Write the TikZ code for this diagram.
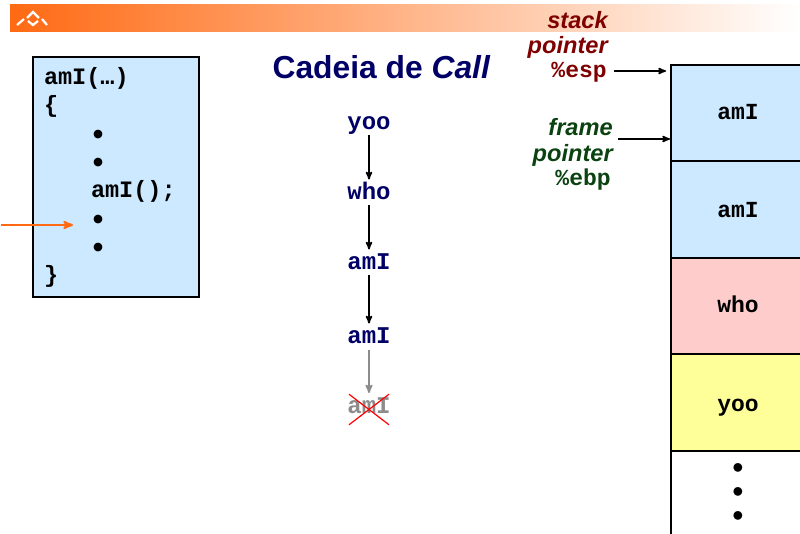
\documentclass[tikz,border=0pt]{standalone}
\usepackage{fontspec}
\setmainfont{Liberation Sans}
\setmonofont{Liberation Mono}
\usepackage{xcolor}
\usetikzlibrary{arrows,positioning,calc}

\definecolor{framblue}{HTML}{CCE9FF}
\definecolor{frampink}{HTML}{FFCCCC}
\definecolor{framyellow}{HTML}{FFFF99}
\definecolor{bannerorange}{HTML}{FF6A13}
\definecolor{bannermid}{HTML}{FFB6A0}
\definecolor{titlenavy}{HTML}{000066}
\definecolor{espred}{HTML}{7F0000}
\definecolor{ebpgreen}{HTML}{0A4210}

\newcommand{\codedot}{\hspace*{45pt}\raisebox{-4pt}{\fontsize{30}{28.3}\selectfont•}}

\tikzset{
	call/.style={font=\ttfamily\bfseries\fontsize{24}{24}\selectfont,text=titlenavy,inner sep=0pt,outer sep=0pt,minimum width=44pt,minimum height=26pt,text height=14pt,text depth=0pt},
	gone/.style={font=\ttfamily\bfseries\fontsize{24}{24}\selectfont,text=black!45,inner sep=0pt,outer sep=0pt,minimum width=40pt,minimum height=33pt,text height=11pt,text depth=4pt},
	framebox/.style={draw=black,line width=2.5pt,minimum width=134pt,font=\ttfamily\bfseries\fontsize{23}{23}\selectfont,inner sep=0pt,text height=14pt,text depth=0pt},
	ptrlabel/.style={font=\bfseries\itshape\fontsize{23.6}{24}\selectfont,inner sep=0pt,anchor=base east},
	ptrreg/.style={font=\ttfamily\bfseries\fontsize{23}{23}\selectfont,inner sep=0pt,anchor=base east},
	ptrarrow/.style={->,line width=1.6pt},
	crossline/.style={red,line width=1.2pt,shorten >=2pt,shorten <=2pt}
}

\begin{document}
\begin{tikzpicture}[x=1pt,y=-1pt,>=stealth',node distance=70pt,semithick]
	\useasboundingbox (0,0) rectangle (800,534);
	\clip (0,0) rectangle (800,534);

	% banner
	\shade[left color=bannerorange,middle color=bannermid,right color=white] (10,5) rectangle (800,32);
	\draw[white,line width=2.2pt] (17,25) -- (24,19) (27,18) -- (33,12) -- (39,18) (42,19) -- (47,25) (28,21) -- (33,25) -- (38,21);

	% title
	\node[font=\bfseries\fontsize{31.8}{32}\selectfont,text=titlenavy,inner sep=0pt]
	(title) at (381.5,67) {Cadeia de \textit{Call}};

	% code box
	\node[draw=black,line width=2.5pt,fill=framblue,minimum width=166pt,minimum height=240pt,anchor=north west,outer sep=0pt,
		inner sep=0pt,text width=144pt,align=left,font=\ttfamily\bfseries\fontsize{23.5}{28.3}\selectfont]
	(code) at (33,57) {amI(…)\\
		\{\\
		\codedot\\
		\codedot\\
		\hspace*{47pt}amI();\\
		\codedot\\
		\codedot\\
		\}};
	\coordinate (pcstart) at (1,225);
	\coordinate (pcend) at (73,225);
	\draw[->,draw=bannerorange,line width=2.2pt] (pcstart) -- (pcend);

	% call chain
	\node[call] (yoo) at (369,122.5) {yoo};
	\node[call] (who) [below of=yoo] {who};
	\node[call] (ami1) [below of=who] {amI};
	\node[call] (ami2) [below of=ami1,node distance=74pt] {amI};
	\node[gone] (ami3) [below of=ami2,node distance=73pt] {amI};

	\path[->,draw=black,line width=1.6pt] (yoo) edge (who);
	\path[->,draw=black,line width=1.6pt] (who) edge (ami1);
	\path[->,draw=black,line width=1.6pt] (ami1) edge (ami2);
	\path[->,draw=black!45,line width=1.8pt] (ami2) edge (ami3);
	\draw[crossline] (ami3.north west) -- (ami3.south east);
	\draw[crossline] (ami3.north east) -- (ami3.south west);

	% stack
	\node[framebox,fill=framblue,minimum height=96pt] (fram1) at (738,113) {amI};
	\node[framebox,fill=framblue,minimum height=97pt,text height=17pt] (fram2) at (738,209.5) {amI};
	\node[framebox,fill=frampink,minimum height=96pt] (fram3) at (738,306) {who};
	\node[framebox,fill=framyellow,minimum height=97pt,text height=18pt] (fram4) at (738,402.5) {yoo};
	\node[framebox,minimum height=110pt] (fram5) at (738,506) {};
	\node[font=\fontsize{32}{24}\selectfont,inner sep=0pt,align=center] (dots) at (738,495) {•\\•\\•};

	% pointers
	\node[ptrlabel,text=espred] (esp1) at (608,29) {stack};
	\node[ptrlabel,text=espred] (esp2) at (608,54) {pointer};
	\node[ptrreg,text=espred] (esp) at (607,78) {\%esp};
	\node[ptrlabel,text=ebpgreen] (ebp1) at (613,136) {frame};
	\node[ptrlabel,text=ebpgreen] (ebp2) at (613,162) {pointer};
	\node[ptrreg,text=ebpgreen] (ebp) at (611,186) {\%ebp};
	\coordinate (espstart) at (614,71);
	\coordinate (esptip) at (666,71);
	\coordinate (ebpstart) at (618,139);
	\coordinate (ebptip) at (670,139);
	\draw[ptrarrow] (espstart) -- (esptip);
	\draw[ptrarrow] (ebpstart) -- (ebptip);
\end{tikzpicture}
\end{document}
